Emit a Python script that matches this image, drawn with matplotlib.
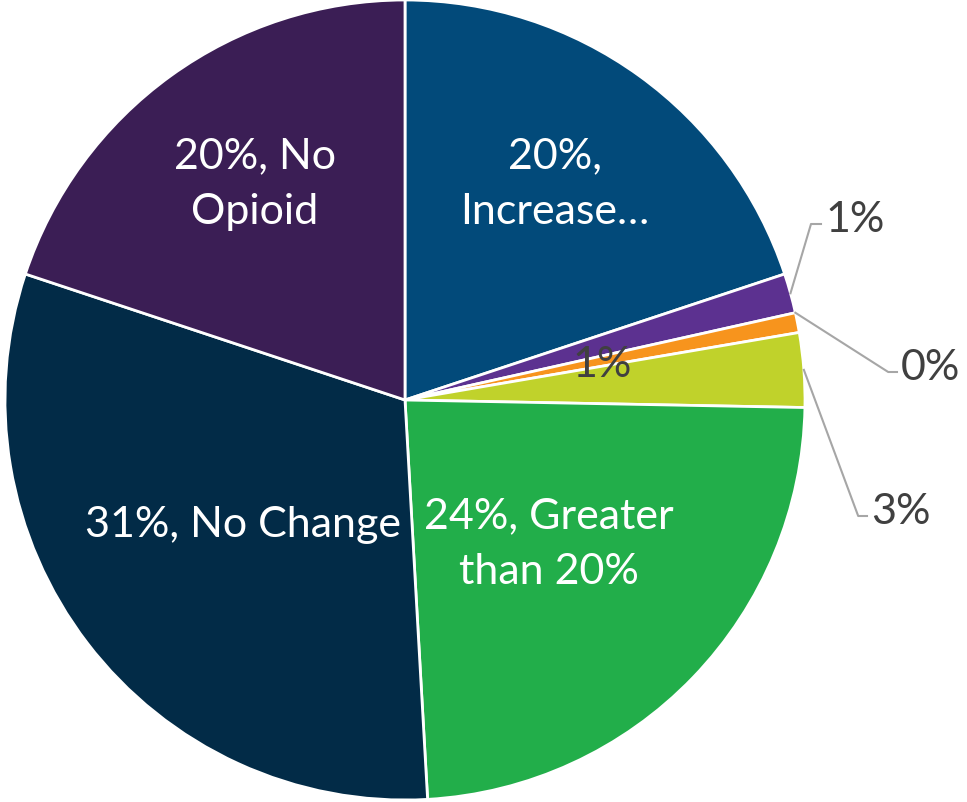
import numpy as np
import matplotlib.pyplot as plt

# slice data (clockwise from 12 o'clock)
categories = ['Increase…', 'Other A', 'Other B', 'Other C', 'Other D', 'Greater than 20%', 'No Change', 'No Opioid']
values = [19.9, 1.6, 0.0, 0.8, 3.0, 23.8, 31.0, 19.9]
labels = ['20%,\nIncrease…', '1%', '0%', '1%', '3%', '24%, Greater\nthan 20%', '31%, No Change', '20%, No\nOpioid']
colors = ['#024A7A', '#5C3190', '#FFFFFF', '#F7941D', '#C0D22B', '#22AE4A', '#022B47', '#3B1E55']

plt.rcParams['font.family'] = ['Lato', 'DejaVu Sans']

fig = plt.figure(figsize=(9.67, 8.02), dpi=100)
ax = fig.add_axes([0, 0, 1, 1])

# draw only the non-zero slices
vals = [v for v in values if v > 0]
cols = [c for v, c in zip(values, colors) if v > 0]
ax.pie(vals, colors=cols, startangle=90, counterclock=False, radius=1.0,
       wedgeprops=dict(edgecolor='white', linewidth=2))

ax.set_xlim(-405 / 400, 562 / 400)
ax.set_ylim(-402 / 400, 400 / 400)
ax.set_aspect('equal')
ax.axis('off')

# angles for label placement
total = sum(values)
ends = 90 - 360 * np.cumsum(values) / total
starts = np.concatenate([[90], ends[:-1]])
mids = (starts + ends) / 2

# inside labels
inside = {0: (0.375, 0.54), 5: (0.36, -0.36), 6: (-0.405, -0.3125), 7: (-0.375, 0.54)}
for i, (x, y) in inside.items():
    ax.text(x, y, labels[i], color='white', fontsize=31, ha='center', va='center',
            linespacing=1.55)

# small slice label inside the pie
ax.text(0.4925, 0.0875, labels[3], color='#404040', fontsize=31, ha='center', va='center')

# outside labels with leader lines: (elbow x, elbow y, text x)
outside = {1: (1.015, 0.44, 1.05), 2: (1.208, 0.07, 1.24), 4: (1.133, -0.29, 1.165)}
for i, (ex, ey, tx) in outside.items():
    a = np.radians(mids[i])
    px, py = np.cos(a), np.sin(a)
    ax.plot([px, ex, tx - 0.01], [py, ey, ey], color='#A6A6A6', lw=1.5)
    ax.text(tx, ey + 0.01, labels[i], color='#404040', fontsize=31, ha='left', va='center')

fig.savefig('out.png', dpi=100)
